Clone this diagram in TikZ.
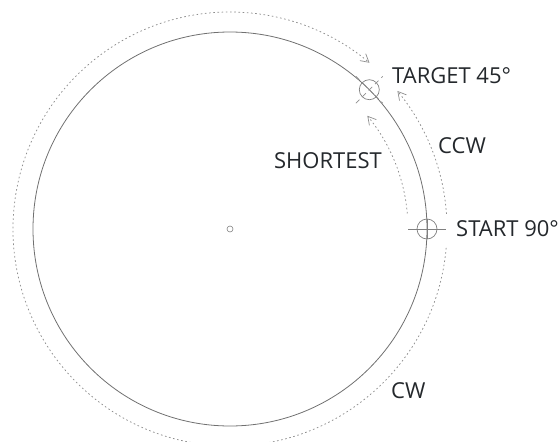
\documentclass[tikz,border=0pt]{standalone}
\usepackage{fontspec}
\setmainfont{Open Sans}
\usepackage{xcolor}
\usepackage{tikz}
\usetikzlibrary{arrows.meta}

\definecolor{ink}{HTML}{24282C}
\definecolor{rim}{HTML}{707070}
\definecolor{mark}{HTML}{808080}
\definecolor{path}{HTML}{8E8E8E}

\tikzset{
  rim/.style={draw=rim, line width=0.8pt},
  marker/.style={draw=mark, line width=0.7pt},
  move/.style={draw=path, line width=0.75pt, dash pattern=on 1.6pt off 2.6pt,
    -{Straight Barb[length=8pt,width=9pt,line width=0.7pt]}},
  lbl/.style={inner sep=0pt, text=ink, font=\fontsize{22}{24}\selectfont}
}

\begin{document}
\begin{tikzpicture}[x=1pt, y=1pt]
\useasboundingbox (0,0) rectangle (560,-442);
% dial
\coordinate (centre) at (230,-229);
\draw[rim] (centre) circle (197);
\draw[marker, line width=0.6pt] (centre) circle (3);
% start and target on the rim
\coordinate (start) at ([shift={(0:197)}]centre);
\coordinate (target) at ([shift={(45:197)}]centre);
\draw[marker] (start) circle (10);
\draw[marker] ([xshift=-19]start) -- ([xshift=19]start);
\draw[marker] ([yshift=-10]start) -- ([yshift=10]start);
\draw[marker] (target) circle (10);
\draw[marker, draw=path, dash pattern=on 5pt off 4pt]
  ([shift={(225:19)}]target) -- ([shift={(45:19)}]target);
\draw[marker, draw=path, dash pattern=on 5pt off 4pt]
  ([shift={(135:19)}]target) -- ([shift={(-45:19)}]target);
% the three ways round
\draw[move] ([shift={(-5:217)}]centre) arc[start angle=-5, end angle=-310, radius=217];
\draw[move] ([shift={(4:217)}]centre) arc[start angle=4, end angle=39.5, radius=217];
\draw[move] ([shift={(5:178)}]centre) arc[start angle=5, end angle=39.5, radius=178];
% labels
\node[lbl, anchor=base west] (tgtlbl) at (392,-83) {TARGET 45°};
\node[lbl, anchor=base west] (ccwlbl) at (438,-153) {CCW};
\node[lbl, anchor=base west] (startlbl) at (456,-236) {START 90°};
\node[lbl, anchor=base east] (shortlbl) at (382,-168) {SHORTEST};
\node[lbl, anchor=base west] (cwlbl) at (391,-398) {CW};
\end{tikzpicture}
\end{document}
